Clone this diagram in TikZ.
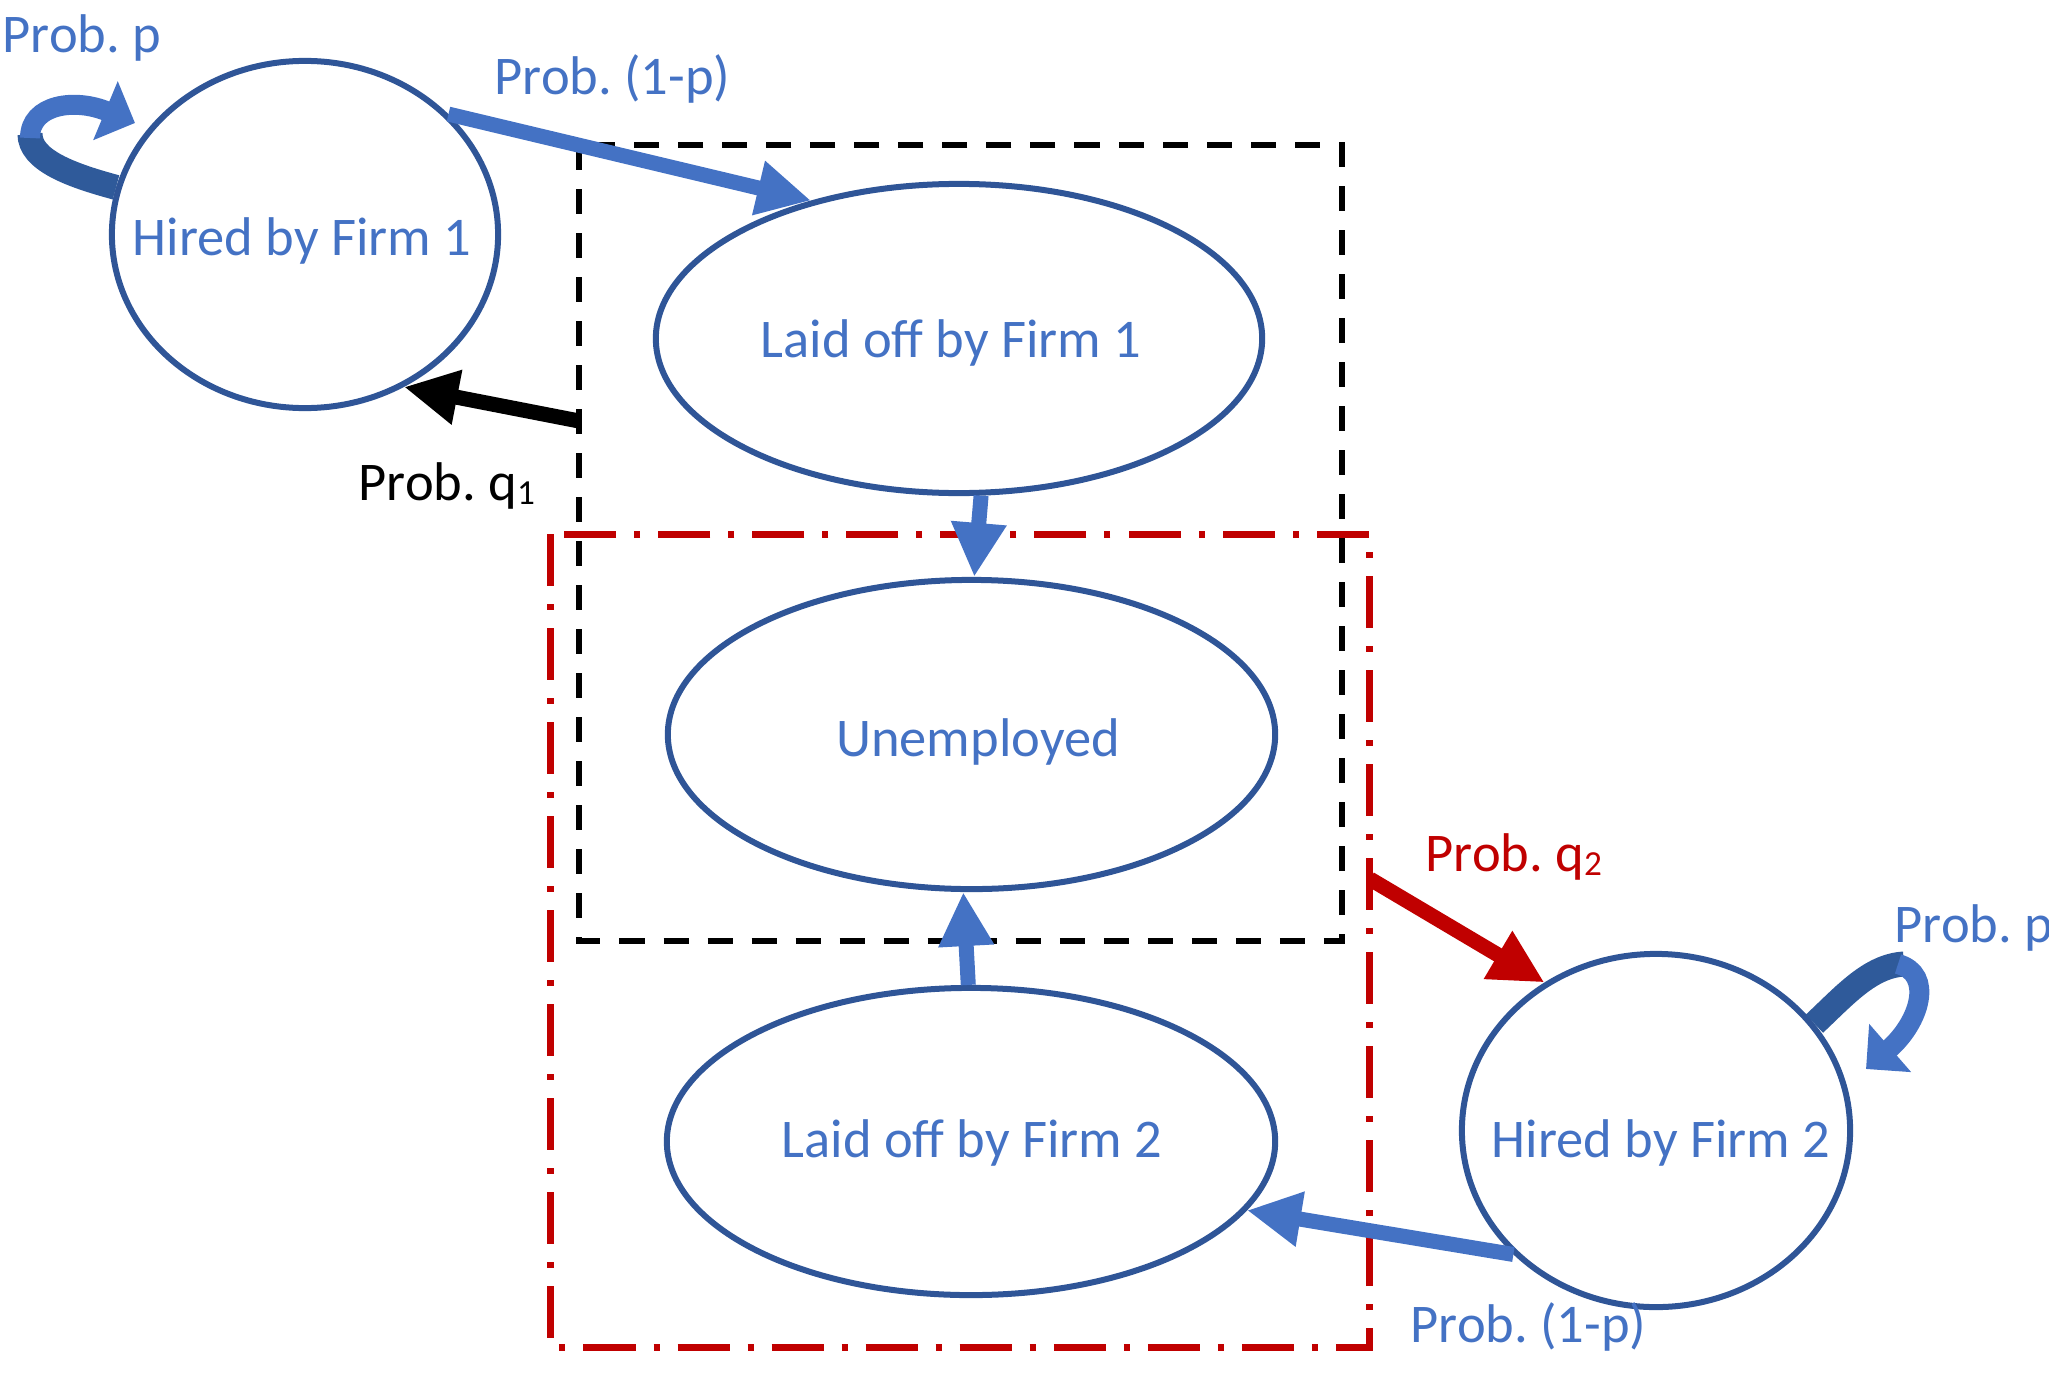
\documentclass[tikz,border=0pt]{standalone}
\usepackage{fontspec}
\setmainfont{Carlito}
\usetikzlibrary{arrows.meta,shapes.geometric}
\definecolor{tblue}{HTML}{4472C4}
\definecolor{eblue}{HTML}{2F5597}
\definecolor{dblue}{HTML}{2F5A9A}
\definecolor{dred}{HTML}{C00000}
\newcommand\subdig[1]{\raisebox{-1.3pt}{\fontsize{10}{10}\selectfont #1}}
\frenchspacing
\begin{document}
\begin{tikzpicture}[x=0.01cm,y=-0.01cm,
  state/.style={draw=eblue, line width=0.06cm, ellipse, inner sep=0pt},
  txt/.style={font=\fontsize{15.5}{18}\selectfont, inner sep=0pt, anchor=base},
  lbl/.style={font=\fontsize{15.5}{18}\selectfont, inner sep=0pt, anchor=base west},
  bigarrow/.style={line width=0.15cm, -{Triangle[length=0.54cm,width=0.52cm]}},
  loopdark/.style={draw=dblue, line width=0.25cm},
  looplight/.style={draw=tblue, line width=0.2cm, -{Triangle[length=0.32cm,width=0.62cm]}},
  blackbox/.style={draw=black, line width=0.065cm, dash pattern=on 0.25cm off 0.19cm},
  redbox/.style={draw=dred, line width=0.07cm, dash pattern=on 0.52cm off 0.18cm on 0.06cm off 0.18cm}]
\useasboundingbox (0,0) rectangle (2049,1373);

% states
\node[state, minimum width=3.86cm, minimum height=3.47cm] (h1) at (305,234.5) {};
\node[state, minimum width=6.06cm, minimum height=3.09cm] (l1) at (959,338.5) {};
\node[state, minimum width=6.07cm, minimum height=3.09cm] (u) at (971.5,734.5) {};
\node[state, minimum width=6.08cm, minimum height=3.07cm] (l2) at (971,1141.5) {};
\node[state, minimum width=3.88cm, minimum height=3.53cm] (h2) at (1656,1130.5) {};

\node[txt, text=tblue] (h1t) at (302,255) {Hired by Firm 1};
\node[txt, text=tblue] (l1t) at (951,357) {Laid off by Firm 1};
\node[txt, text=tblue] (ut) at (978,756) {Unemployed};
\node[txt, text=tblue] (l2t) at (972,1157) {Laid off by Firm 2};
\node[txt, text=tblue] (h2t) at (1661,1157) {Hired by Firm 2};

% boxes
\draw[blackbox] (579,145) rectangle (1342,941);
\draw[redbox] (550,534) rectangle (1369,1347);

\coordinate (q1s) at (579,421);
\coordinate (q2s) at (1370,879);
\coordinate (lp1) at (135,123);
\coordinate (lp2) at (1866,1069);

% arrows
\draw[bigarrow, draw=tblue] (h1.40.3) -- (l1.137);
\draw[bigarrow, draw=black] (q1s) -- (h1.-57.7);
\draw[bigarrow, draw=tblue] (l1.-82) -- (u.89);
\draw[bigarrow, draw=tblue] (l2.91.5) -- (u.-93);
\draw[bigarrow, draw=dred] (q2s) -- (h2.127.5);
\draw[bigarrow, draw=tblue] (h2.221.7) -- (l2.-14.3);

% self loops
\draw[loopdark] (h1.166) .. controls (70,175) and (30,160) .. (30,134);
\draw[looplight] (30,138) .. controls (30,104) and (75,98) .. (lp1);
\draw[loopdark] (h2.34) .. controls (1845,995) and (1870,966) .. (1904,964);
\draw[looplight] (1898,964) .. controls (1934,974) and (1920,1022) .. (lp2);

% labels
\node[lbl, text=tblue] (pp1) at (2,53) {Prob. p};
\node[lbl, text=tblue] (pq1) at (494,95) {Prob. (1-p)};
\node[lbl, text=black] (qq1) at (358,500) {Prob. q\subdig{1}};
\node[lbl, text=dred] (qq2) at (1425,871) {Prob. q\subdig{2}};
\node[lbl, text=tblue] (pp2) at (1894,942) {Prob. p};
\node[lbl, text=tblue] (pq2) at (1410,1342) {Prob. (1-p)};
\end{tikzpicture}
\end{document}
